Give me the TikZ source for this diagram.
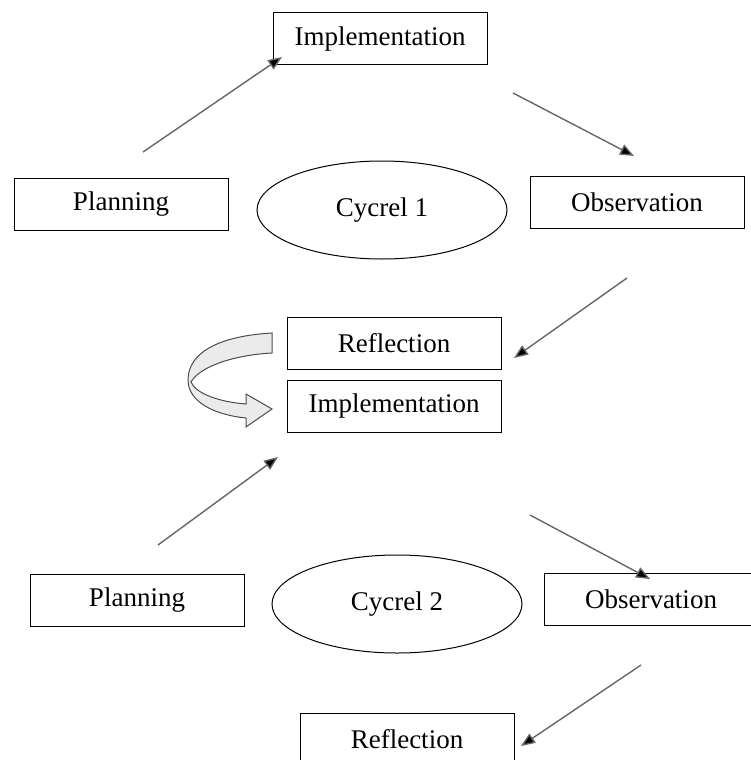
\documentclass[tikz,border=0pt]{standalone}
\usepackage{fontspec}
\setmainfont{Liberation Serif}
\usetikzlibrary{arrows.meta,shapes.geometric}
\tikzset{
  stage/.style={draw, line width=1pt, minimum width=214pt, minimum height=52pt, inner sep=0pt, font=\fontsize{27}{32}\selectfont},
  cyc/.style={draw, ellipse, line width=1pt, minimum width=250pt, minimum height=98pt, inner sep=0pt, font=\fontsize{27}{32}\selectfont},
  flow/.style={draw=black!60, line width=1.4pt, -{Triangle[length=14pt,width=11pt,fill=black]}},
  ribbon/.style={draw=black!70, line width=1pt, fill=black!8}
}
\begin{document}
\begin{tikzpicture}[x=1pt,y=-1pt]
        \useasboundingbox (0,0) rectangle (750,760);
        \node[stage] (impl1) at (380,39) {Implementation};
        \node[stage] (plan1) at (121,204) {Planning};
        \node[cyc] (cyc1) at (382,210) {Cycrel 1};
        \node[stage] (obs1) at (637,202) {Observation};
        \node[stage] (refl1) at (394,343) {Reflection};
        \node[stage] (impl2) at (394,406) {Implementation};
        \node[stage] (plan2) at (137,600) {Planning};
        \node[cyc] (cyc2) at (397,604) {Cycrel 2};
        \node[stage] (obs2) at (651,599) {Observation};
        \node[stage] (refl2) at (407,739) {Reflection};
        \coordinate (a1) at (143,152); \coordinate (b1) at (282,57);
        \coordinate (a2) at (513,93);  \coordinate (b2) at (634,156);
        \coordinate (a3) at (627,278); \coordinate (b3) at (514,358);
        \coordinate (a4) at (158,545); \coordinate (b4) at (278,457);
        \coordinate (a5) at (530,515); \coordinate (b5) at (650,579);
        \coordinate (a6) at (641,665); \coordinate (b6) at (521,746);
        \draw[flow] (a1) -- (b1);
        \draw[flow] (a2) -- (b2);
        \draw[flow] (a3) -- (b3);
        \draw[flow] (a4) -- (b4);
        \draw[flow] (a5) -- (b5);
        \draw[flow] (a6) -- (b6);
        \draw[ribbon] (272,333) .. controls (220,336) and (188,352) .. (188,380)
            .. controls (188,402) and (215,415) .. (246,418) -- (246,427) -- (272,409)
            -- (246,394) -- (246,404) .. controls (220,402) and (196,394) .. (191,382)
            .. controls (200,366) and (235,355) .. (272,353) -- cycle;
\end{tikzpicture}
\end{document}
